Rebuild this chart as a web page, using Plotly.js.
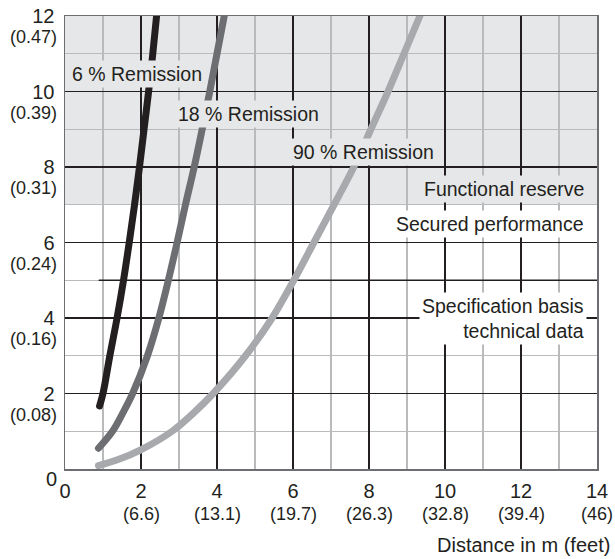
<!DOCTYPE html>
<html>
<head>
<meta charset="utf-8">
<script src="https://cdn.plot.ly/plotly-3.0.1.min.js"></script>
<style>
  html, body { margin: 0; padding: 0; background: #fff; }
  #chart { width: 615px; height: 559px; }
  .js-line { stroke-linecap: round !important; stroke-linejoin: round !important; }
</style>
</head>
<body>
<div id="chart"></div>
<script>
// ---------- data ----------
const seriesNames = ['6 % Remission', '18 % Remission', '90 % Remission'];

const remission6X = [0.91, 1.00, 1.18, 1.37, 1.54, 1.69, 1.83, 1.96, 2.08, 2.20, 2.31, 2.41];
const remission6Y = [1.67, 2, 3, 4, 5, 6, 7, 8, 9, 10, 11, 12];

const remission18X = [0.88, 1.25, 1.53, 1.78, 2.17, 2.47, 2.72, 2.95, 3.17, 3.40, 3.61, 3.81, 4.00, 4.19];
const remission18Y = [0.55, 1, 1.5, 2, 3, 4, 5, 6, 7, 8, 9, 10, 11, 12];

const remission90X = [0.88, 1.40, 1.98, 2.82, 3.40, 3.90, 4.75, 5.45, 6.02, 6.55, 7.08, 7.60, 8.05, 8.50, 8.92, 9.34];
const remission90Y = [0.09, 0.25, 0.5, 1, 1.5, 2, 3, 4, 5, 6, 7, 8, 9, 10, 11, 12];

const specLineX = [0.9, 14];
const specLineY = [5, 5];

const reserveBand = [7, 12];

const xTickVals = [0, 2, 4, 6, 8, 10, 12, 14];
const xTickText = ['0', '2', '4', '6', '8', '10', '12', '14'];
const xFeetText = ['', '(6.6)', '(13.1)', '(19.7)', '(26.3)', '(32.8)', '(39.4)', '(46)'];

const yTickVals = [2, 4, 6, 8, 10, 12];
const yTickText = ['2', '4', '6', '8', '10', '12'];
const yInchText = ['(0.08)', '(0.16)', '(0.24)', '(0.31)', '(0.39)', '(0.47)'];
const yZeroText = '0';

const zoneLabels = ['Functional reserve', 'Secured performance', 'Specification basis<br>technical data'];
const xAxisTitle = 'Distance in m (feet)';

// ---------- style ----------
const FONT = 'Liberation Sans, Arial, sans-serif';
const INK = '#231f20';
const SHADE = '#e6e7e8';
const colors = ['#231f20', '#6d6e71', '#a7a9ac'];

const curves = [
  [remission6X, remission6Y],
  [remission18X, remission18Y],
  [remission90X, remission90Y]
];

const traces = curves.map((c, i) => ({
  type: 'scatter', mode: 'lines', name: seriesNames[i],
  x: c[0], y: c[1],
  line: { color: colors[i], width: 7, shape: 'spline', smoothing: 1 },
  hoverinfo: 'skip'
}));
traces.unshift({
  type: 'scatter', mode: 'lines', x: specLineX, y: specLineY,
  line: { color: INK, width: 1.5 }, hoverinfo: 'skip', showlegend: false
});

const annotations = [];
// secondary x labels (feet)
xTickVals.forEach((v, i) => {
  if (!xFeetText[i]) return;
  annotations.push({
    xref: 'x', yref: 'paper', x: v, y: 0, yshift: -45, yanchor: 'middle',
    text: xFeetText[i], showarrow: false, font: { family: FONT, size: 18, color: INK }
  });
});
// secondary y labels (inch)
yTickVals.forEach((v, i) => {
  annotations.push({
    xref: 'paper', yref: 'y', x: 0, y: v, xshift: -6, yshift: -21, xanchor: 'right', yanchor: 'middle',
    text: yInchText[i], showarrow: false, font: { family: FONT, size: 18, color: INK }
  });
});
// y zero
annotations.push({
  xref: 'paper', yref: 'y', x: 0, y: 0, xshift: -6, yshift: -10, xanchor: 'right', yanchor: 'middle',
  text: yZeroText, showarrow: false, font: { family: FONT, size: 20, color: INK }
});
// remission labels
const remLabelPos = [[1.895, 10.47], [4.83, 9.41], [7.85, 8.39]];
seriesNames.forEach((t, i) => {
  annotations.push({
    x: remLabelPos[i][0], y: remLabelPos[i][1], xref: 'x', yref: 'y',
    text: t, showarrow: false, bgcolor: SHADE, borderpad: 2,
    font: { family: FONT, size: 19.5, color: INK }
  });
});
// zone labels (right aligned)
const zonePos = [7.42, 6.49, 3.99];
const zoneBg = [SHADE, '#ffffff', '#ffffff'];
zoneLabels.forEach((t, i) => {
  annotations.push({
    xref: 'paper', yref: 'y', x: 1, y: zonePos[i], xshift: -10, xanchor: 'right', yanchor: 'middle',
    align: 'right', text: t, showarrow: false, bgcolor: zoneBg[i], borderpad: 2,
    font: { family: FONT, size: 19.5, color: INK }
  });
});
// axis title
annotations.push({
  xref: 'paper', yref: 'paper', x: 1, y: 0, xshift: 15, yshift: -76, xanchor: 'right', yanchor: 'middle',
  text: xAxisTitle, showarrow: false, font: { family: FONT, size: 20, color: INK }
});

const layout = {
  width: 615, height: 559,
  margin: { l: 65, r: 18, t: 16, b: 90 },
  paper_bgcolor: '#ffffff', plot_bgcolor: '#ffffff',
  showlegend: false,
  font: { family: FONT, color: INK },
  xaxis: {
    range: [0, 14], tickmode: 'array', tickvals: xTickVals, ticktext: xTickText,
    showgrid: true, gridcolor: INK, gridwidth: 1.2,
    minor: { dtick: 1, showgrid: true, gridcolor: '#b9babc', gridwidth: 1.2 },
    showline: true, linecolor: '#6d6e71', linewidth: 1.5, mirror: true,
    ticks: '', ticklabelstandoff: 3, zeroline: false,
    tickfont: { family: FONT, size: 20, color: INK }
  },
  yaxis: {
    range: [0, 12], tickmode: 'array', tickvals: yTickVals, ticktext: yTickText,
    showgrid: true, gridcolor: INK, gridwidth: 1.2,
    minor: { dtick: 1, showgrid: true, gridcolor: '#b9babc', gridwidth: 1.2 },
    showline: true, linecolor: '#6d6e71', linewidth: 1.5, mirror: true,
    ticks: '', ticklabelstandoff: 5, zeroline: false,
    tickfont: { family: FONT, size: 20, color: INK }
  },
  shapes: [{
    type: 'rect', xref: 'paper', yref: 'y', x0: 0, x1: 1, y0: reserveBand[0], y1: reserveBand[1],
    fillcolor: SHADE, line: { width: 0 }, layer: 'below'
  }],
  annotations: annotations
};

Plotly.newPlot('chart', traces, layout, { displayModeBar: false, staticPlot: true });
</script>
</body>
</html>
